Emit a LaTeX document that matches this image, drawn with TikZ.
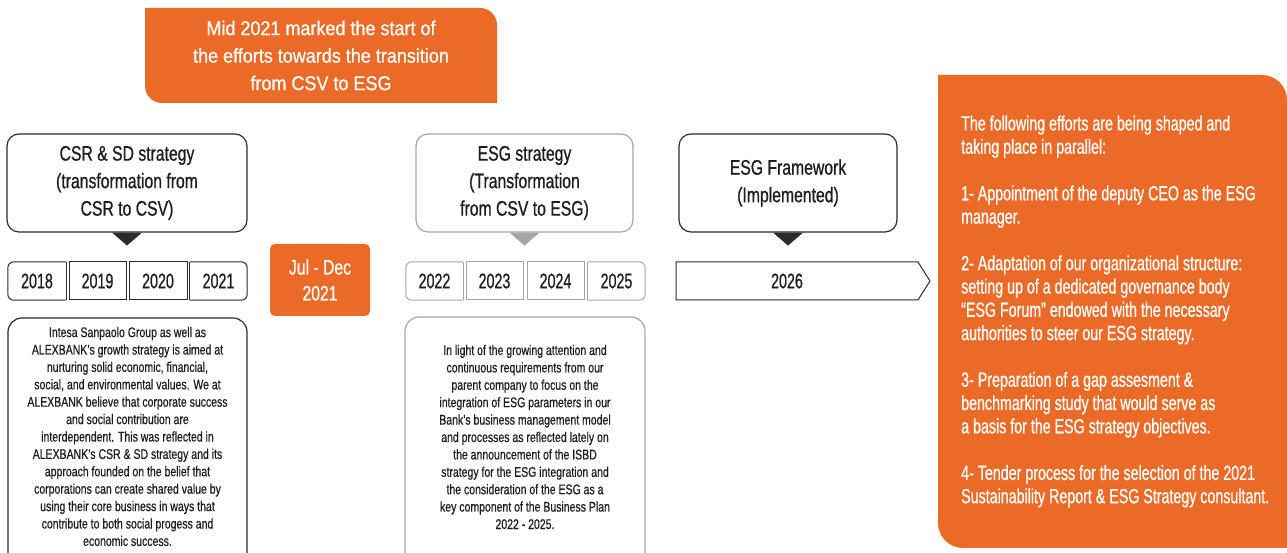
\documentclass[tikz,border=0pt]{standalone}
\usepackage{fontspec}
\setmainfont{Liberation Sans}[FakeStretch=0.75,FakeBold=0.8]
\newfontfamily\wideF{Liberation Sans}[FakeStretch=0.9,FakeBold=0.8]
\newfontfamily\yearF{Liberation Sans}[FakeStretch=0.68,FakeBold=0.8]
\newfontfamily\panelF{Liberation Sans}[FakeStretch=0.695,FakeBold=0.8]
\newfontfamily\smallF{Liberation Sans}[FakeStretch=0.75,FakeBold=0.6]
\definecolor{brandorange}{HTML}{EB6A28}
\definecolor{linedark}{HTML}{2B2B2B}
\definecolor{linegray}{HTML}{A6A6A6}
\definecolor{textdark}{HTML}{1E1E1E}
\begin{document}
\begin{tikzpicture}[x=1pt,y=1pt,
  titlebox/.style={line width=1.2pt, rounded corners=12pt, minimum height=98pt, inner sep=0pt, align=center, text=textdark, font=\fontsize{21}{27.5}\selectfont},
  yearbase/.style={minimum height=38pt, inner sep=0pt, text=textdark, font=\yearF\fontsize{21}{24}\selectfont},
  smalltext/.style={inner sep=0pt, align=center, text=textdark, font=\smallF\fontsize{14}{17.4}\selectfont},
  blackline/.style={draw=linedark, line width=1.2pt},
  grayline/.style={draw=linegray, line width=1.2pt}
]
\useasboundingbox (0,0) rectangle (1287,553);

% top banner
\fill[brandorange] (145,545) -- (480,545) arc[start angle=90,end angle=0,radius=17] -- (497,450) -- (162,450) arc[start angle=270,end angle=180,radius=17] -- cycle;
\node[inner sep=0pt, align=center, text=white, font=\wideF\fontsize{20}{27.5}\selectfont] (banner) at (321,497.5)
  {Mid 2021 marked the start of\\the efforts towards the transition\\from CSV to ESG};

% title boxes
\node[titlebox, blackline, minimum width=240pt] (csr) at (127,370) {CSR \& SD strategy\\(transformation from\\CSR to CSV)};
\node[titlebox, grayline, minimum width=217pt] (esg) at (524.5,370) {ESG strategy\\(Transformation\\from CSV to ESG)};
\node[titlebox, blackline, minimum width=218pt] (frm) at (788,370) {ESG Framework\\(Implemented)};

% pointers
\fill[linedark] ([xshift=-15pt]csr.south) -- ([xshift=15pt]csr.south) -- ([yshift=-13pt]csr.south) -- cycle;
\fill[linegray] ([xshift=-15pt]esg.south) -- ([xshift=15pt]esg.south) -- ([yshift=-13pt]esg.south) -- cycle;
\fill[linedark] ([xshift=-15pt]frm.south) -- ([xshift=15pt]frm.south) -- ([yshift=-13pt]frm.south) -- cycle;

% years 2018-2021
\node[yearbase, minimum width=58pt] (y18) at (37,272) {2018};
\draw[blackline, line width=1pt, rounded corners=6pt] (y18.north east) -- (y18.north west) -- (y18.south west) -- (y18.south east);
\draw[blackline, line width=1pt] (y18.south east) -- (y18.north east);
\node[yearbase, blackline, line width=1pt, minimum width=57pt] (y19) at (97.5,272) {2019};
\node[yearbase, blackline, line width=1pt, minimum width=58pt] (y20) at (158,272) {2020};
\node[yearbase, minimum width=57pt] (y21) at (218.5,272) {2021};
\draw[blackline, line width=1pt, rounded corners=6pt] (y21.north west) -- (y21.north east) -- (y21.south east) -- (y21.south west);
\draw[blackline, line width=1pt] (y21.south west) -- (y21.north west);

% years 2022-2025
\node[yearbase, minimum width=57pt] (y22) at (434.5,272) {2022};
\draw[grayline, line width=1pt, rounded corners=6pt] (y22.north east) -- (y22.north west) -- (y22.south west) -- (y22.south east);
\draw[grayline, line width=1pt] (y22.south east) -- (y22.north east);
\node[yearbase, grayline, line width=1pt, minimum width=57pt] (y23) at (494.5,272) {2023};
\node[yearbase, grayline, line width=1pt, minimum width=57pt] (y24) at (555.5,272) {2024};
\node[yearbase, minimum width=57pt] (y25) at (616.5,272) {2025};
\draw[grayline, line width=1pt, rounded corners=6pt] (y25.north west) -- (y25.north east) -- (y25.south east) -- (y25.south west);
\draw[grayline, line width=1pt] (y25.south west) -- (y25.north west);

% 2026 arrow
\draw[draw=linedark, line width=1pt] (676,291) -- (918,291) -- (930,272) -- (918,253) -- (676,253) -- cycle;
\node[yearbase] (y26) at (787,272) {2026};

% Jul - Dec
\node[fill=brandorange, rounded corners=5pt, minimum width=100pt, minimum height=72pt, inner sep=0pt, align=center, text=white, font=\fontsize{21}{26}\selectfont] (jul) at (320,273) {Jul - Dec\\2021};

% text boxes
\draw[blackline, rounded corners=14pt] (8,0) -- (8,235) -- (247,235) -- (247,0);
\node[smalltext] (txtL) at (127.5,116.5) {Intesa Sanpaolo Group as well as\\
ALEXBANK’s growth strategy is aimed at\\
nurturing solid economic, financial,\\
social, and environmental values. We at\\
ALEXBANK believe that corporate success\\
and social contribution are\\
interdependent. This was reflected in\\
ALEXBANK’s CSR \& SD strategy and its\\
approach founded on the belief that\\
corporations can create shared value by\\
using their core business in ways that\\
contribute to both social progess and\\
economic success.};

\draw[grayline, rounded corners=14pt] (405,0) -- (405,236) -- (645,236) -- (645,0);
\node[smalltext] (txtM) at (525,116) {In light of the growing attention and\\
continuous requirements from our\\
parent company to focus on the\\
integration of ESG parameters in our\\
Bank’s business management model\\
and processes as reflected lately on\\
the announcement of the ISBD\\
strategy for the ESG integration and\\
the consideration of the ESG as a\\
key component of the Business Plan\\
2022 - 2025.};

% right panel
\fill[brandorange] (938,478) -- (1262,478) arc[start angle=90,end angle=0,radius=25] -- (1287,5) -- (963,5) arc[start angle=270,end angle=180,radius=25] -- cycle;
\node[inner sep=0pt, anchor=west, align=left, text=white, font=\panelF\fontsize{20.5}{23.3}\selectfont] (panel) at (961,241.5)
{The following efforts are being shaped and\\
taking place in parallel:\\[23.3pt]
1- Appointment of the deputy CEO as the ESG\\
manager.\\[23.3pt]
2- Adaptation of our organizational structure:\\
setting up of a dedicated governance body\\
“ESG Forum” endowed with the necessary\\
authorities to steer our ESG strategy.\\[23.3pt]
3- Preparation of a gap assesment \&\\
benchmarking study that would serve as\\
a basis for the ESG strategy objectives.\\[23.3pt]
4- Tender process for the selection of the 2021\\
Sustainability Report \& ESG Strategy consultant.};
\end{tikzpicture}
\end{document}
